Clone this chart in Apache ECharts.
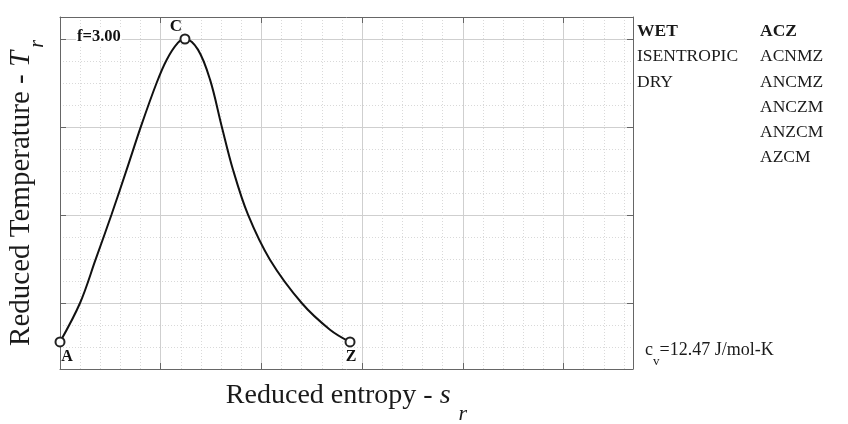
<!DOCTYPE html>
<html>
<head>
<meta charset="utf-8">
<script src="https://cdn.jsdelivr.net/npm/echarts@6/dist/echarts.min.js"></script>
<style>
  html, body { margin: 0; padding: 0; background: #fff; }
  #chart { width: 848px; height: 424px; }
</style>
</head>
<body>
<div id="chart"></div>
<script>
// ---- data ----
const entropy = [0, 0.199, 0.353, 0.511, 0.662, 0.804, 0.960, 1.060, 1.172, 1.241, 1.370, 1.490, 1.606, 1.718, 1.867, 2.085, 2.400, 2.681, 2.880];
const temperature = [-0.443, 0, 0.492, 1.003, 1.515, 2.007, 2.503, 2.765, 2.958, 3.0, 2.879, 2.538, 2.007, 1.515, 1.003, 0.492, 0, -0.303, -0.443];
const pointNames = ['A', 'C', 'Z'];
const pointEntropy = [0, 1.241, 2.880];
const pointTemperature = [-0.443, 3.0, -0.443];
const yMajorTicks = [0, 1, 2, 3];
const wetHeader = 'WET';
const wetRows = ['ISENTROPIC', 'DRY'];
const aczHeader = 'ACZ';
const aczRows = ['ACNMZ', 'ANCMZ', 'ANCZM', 'ANZCM', 'AZCM'];
const fLabel = 'f=3.00';
const cvValue = '=12.47 J/mol-K';

// ---- layout / style ----
const SERIF = "'Liberation Serif', 'Times New Roman', serif";
const X_MIN = 0, X_MAX = 5.69, Y_MIN = -0.75, Y_MAX = 3.25;
const AXIS_COLOR = '#666';
const TEXT_COLOR = '#1a1a1a';
const labelOffsets = { A: [7, 15], C: [-9, -12], Z: [1, 15] };

const chart = echarts.init(document.getElementById('chart'), null, { renderer: 'canvas' });

const baseAxis = {
  type: 'value',
  axisLabel: { show: false },
  axisLine: { show: false, onZero: false, lineStyle: { color: AXIS_COLOR, width: 1 } },
  axisTick: { show: false },
  splitLine: { show: false }
};

const minorSplit = { show: true, lineStyle: { color: '#d9d9d9', width: 1, type: [1, 2] } };
const majorSplit = { show: true, lineStyle: { color: '#cfcfcf', width: 1, type: 'solid' } };
const tickStyle = { show: true, inside: true, length: 6, lineStyle: { color: AXIS_COLOR, width: 1 } };

const graphics = [];
const rowStep = 25.2, rowTop = 31.7;
function addText(txt, x, y, bold) {
  graphics.push({
    type: 'text', x: x, y: y, silent: true,
    style: { text: txt, fontFamily: SERIF, fontSize: 17.5, fontWeight: bold ? 'bold' : 'normal',
             fill: TEXT_COLOR, align: 'left', verticalAlign: 'middle' }
  });
}
addText(wetHeader, 637, rowTop, true);
wetRows.forEach((t, i) => addText(t, 637, rowTop + rowStep * (i + 1), false));
addText(aczHeader, 760, rowTop, true);
aczRows.forEach((t, i) => addText(t, 760, rowTop + rowStep * (i + 1), false));

graphics.push({
  type: 'text', x: 76, y: 37, silent: true, z: 10,
  style: { text: fLabel, fontFamily: SERIF, fontSize: 16.5, fontWeight: 'bold', fill: '#111',
           align: 'left', verticalAlign: 'middle', backgroundColor: '#fff', padding: [1, 1, 1, 1] }
});
graphics.push({
  type: 'text', x: 645, y: 350, silent: true,
  style: {
    text: '{m|c}{sub|v}{m|' + cvValue + '}',
    align: 'left', verticalAlign: 'middle', fill: TEXT_COLOR,
    rich: {
      m: { fontFamily: SERIF, fontSize: 18, lineHeight: 20, fill: TEXT_COLOR, color: TEXT_COLOR },
      sub: { fontFamily: SERIF, fontSize: 13, lineHeight: 20, padding: [24, 0, 0, 0], fill: TEXT_COLOR, color: TEXT_COLOR }
    }
  }
});

const option = {
  animation: false,
  backgroundColor: '#fff',
  grid: { left: 60, right: 215, top: 17, bottom: 55, containLabel: false, outerBoundsMode: 'none' },
  xAxis: [
    Object.assign({}, baseAxis, {
      min: X_MIN, max: X_MAX, interval: 0.2, position: 'bottom',
      axisLine: { show: true, onZero: false, lineStyle: { color: AXIS_COLOR, width: 1 } },
      splitLine: minorSplit,
      name: '{a|Reduced entropy - }{s|s}{sub|r}',
      nameLocation: 'middle', nameGap: 12,
      nameTextStyle: {
        color: TEXT_COLOR,
        rich: {
          a: { fontFamily: SERIF, fontSize: 28, lineHeight: 30, color: TEXT_COLOR },
          s: { fontFamily: SERIF, fontSize: 28, fontStyle: 'italic', lineHeight: 30, color: TEXT_COLOR },
          sub: { fontFamily: SERIF, fontSize: 22, fontStyle: 'italic', lineHeight: 30, padding: [36, 0, 0, 8], color: TEXT_COLOR }
        }
      }
    }),
    Object.assign({}, baseAxis, {
      min: X_MIN, max: X_MAX, interval: 1, position: 'bottom',
      axisTick: tickStyle, splitLine: majorSplit
    }),
    Object.assign({}, baseAxis, {
      min: X_MIN, max: X_MAX, interval: 1, position: 'top',
      axisLine: { show: true, onZero: false, lineStyle: { color: AXIS_COLOR, width: 1 } },
      axisTick: tickStyle
    })
  ],
  yAxis: [
    Object.assign({}, baseAxis, {
      min: Y_MIN, max: Y_MAX, interval: 0.25, position: 'left',
      axisLine: { show: true, onZero: false, lineStyle: { color: AXIS_COLOR, width: 1 } },
      splitLine: minorSplit,
      name: '{a|Reduced Temperature - }{s|T}{sub|r}',
      nameLocation: 'middle', nameGap: 24,
      nameTextStyle: {
        color: TEXT_COLOR,
        rich: {
          a: { fontFamily: SERIF, fontSize: 29, lineHeight: 30, color: TEXT_COLOR },
          s: { fontFamily: SERIF, fontSize: 29, fontStyle: 'italic', lineHeight: 30, color: TEXT_COLOR },
          sub: { fontFamily: SERIF, fontSize: 20, fontStyle: 'italic', lineHeight: 30, padding: [34, 0, 0, 3], color: TEXT_COLOR }
        }
      }
    }),
    Object.assign({}, baseAxis, {
      min: Y_MIN, max: Y_MAX, position: 'left',
      axisTick: Object.assign({}, tickStyle, { customValues: yMajorTicks }),
      splitLine: majorSplit
    }),
    Object.assign({}, baseAxis, {
      min: Y_MIN, max: Y_MAX, position: 'right',
      axisLine: { show: true, onZero: false, lineStyle: { color: AXIS_COLOR, width: 1 } },
      axisTick: Object.assign({}, tickStyle, { customValues: yMajorTicks })
    })
  ],
  series: [
    {
      type: 'line', xAxisIndex: 0, yAxisIndex: 0, z: 3,
      data: entropy.map((s, i) => [s, temperature[i]]),
      smooth: 0.35, showSymbol: false, symbol: 'none',
      lineStyle: { color: '#111', width: 2 }
    },
    {
      type: 'scatter', xAxisIndex: 0, yAxisIndex: 0, z: 4,
      symbol: 'emptyCircle', symbolSize: 9,
      itemStyle: { color: '#222', borderColor: '#222', borderWidth: 1, opacity: 1 },
      data: pointNames.map((n, i) => ({
        name: n, value: [pointEntropy[i], pointTemperature[i]],
        label: { offset: labelOffsets[n], fontSize: n === 'C' ? 17 : 16 }
      })),
      label: {
        show: true, position: 'inside', formatter: '{b}',
        fontFamily: SERIF, fontWeight: 'bold', fontSize: 16, color: '#111', opacity: 1,
        textBorderWidth: 0, textBorderColor: 'transparent'
      }
    }
  ],
  graphic: graphics
};

chart.setOption(option);
</script>
</body>
</html>
